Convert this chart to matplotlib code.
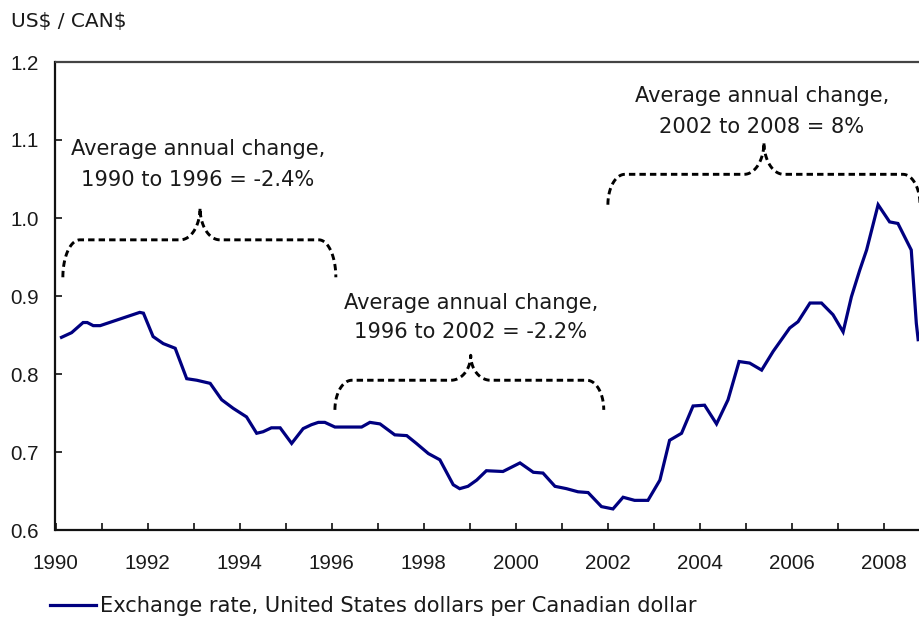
import numpy as np
import matplotlib
matplotlib.use("Agg")
import matplotlib.pyplot as plt

# ---------------- data ----------------
dates = [1990.13, 1990.35, 1990.60, 1990.69, 1990.82, 1990.97, 1991.83, 1991.91,
         1992.12, 1992.34, 1992.60, 1992.85, 1993.07, 1993.36, 1993.61, 1993.86,
         1994.15, 1994.37, 1994.51, 1994.69, 1994.88, 1995.13, 1995.38, 1995.56,
         1995.71, 1995.85, 1996.07, 1996.65, 1996.83, 1997.05, 1997.37, 1997.63,
         1997.84, 1998.10, 1998.35, 1998.64, 1998.78, 1998.96, 1999.15, 1999.36,
         1999.72, 2000.09, 2000.38, 2000.59, 2000.85, 2001.10, 2001.35, 2001.57,
         2001.86, 2002.11, 2002.33, 2002.58, 2002.87, 2003.13, 2003.34, 2003.60,
         2003.85, 2004.10, 2004.36, 2004.61, 2004.85, 2005.08, 2005.34, 2005.59,
         2005.95, 2006.13, 2006.39, 2006.64, 2006.89, 2007.11, 2007.29, 2007.47,
         2007.62, 2007.87, 2008.12, 2008.30, 2008.59, 2008.70, 2008.74]
rate = [0.847, 0.853, 0.866, 0.866, 0.862, 0.862, 0.879, 0.878,
        0.848, 0.839, 0.833, 0.794, 0.792, 0.788, 0.767, 0.756,
        0.745, 0.724, 0.726, 0.731, 0.731, 0.711, 0.730, 0.735,
        0.738, 0.738, 0.732, 0.732, 0.738, 0.736, 0.722, 0.721,
        0.711, 0.698, 0.690, 0.658, 0.653, 0.656, 0.664, 0.676,
        0.675, 0.686, 0.674, 0.673, 0.656, 0.653, 0.649, 0.648,
        0.630, 0.627, 0.642, 0.638, 0.638, 0.664, 0.715, 0.724,
        0.759, 0.760, 0.736, 0.767, 0.816, 0.814, 0.805, 0.829,
        0.859, 0.867, 0.891, 0.891, 0.876, 0.854, 0.899, 0.933,
        0.959, 1.017, 0.995, 0.993, 0.959, 0.865, 0.844]

series_label = "Exchange rate, United States dollars per Canadian dollar"
y_title = r"US\$ / CAN\$"
x_major = [1990, 1992, 1994, 1996, 1998, 2000, 2002, 2004, 2006, 2008]
x_minor = list(range(1990, 2009))
y_ticks = [0.6, 0.7, 0.8, 0.9, 1.0, 1.1, 1.2]

ann_line1 = ["Average annual change,", "Average annual change,", "Average annual change,"]
ann_line2 = ["1990 to 1996 = -2.4%", "1996 to 2002 = -2.2%", "2002 to 2008 = 8%"]
ann_x = [1993.09, 1999.02, 2005.34]
ann_y1 = [1.088, 0.891, 1.156]
ann_y2 = [1.049, 0.854, 1.117]

# braces: (x_left, x_tip, x_right, y_bottom, y_horizontal, y_tip)
braces = [
    (1990.16, 1993.14, 1996.09, 0.924, 0.972, 1.013),
    (1996.07, 1999.02, 2001.91, 0.754, 0.792, 0.824),
    (2002.00, 2005.39, 2008.78, 1.017, 1.056, 1.097),
]

# ---------------- figure ----------------
W, H, DPI = 920, 618, 100
fig = plt.figure(figsize=(W / DPI, H / DPI), dpi=DPI)
ax = fig.add_axes([55.5 / W, (H - 530) / H, 1 - 55.5 / W, (530 - 62) / H])

TXT = "DejaVu Sans"
TICKF = "Liberation Sans"

ax.plot(dates, rate, color="#000080", lw=2.3, solid_joinstyle="miter",
        label=series_label, clip_on=False)

ax.set_xlim(1990, 2008.78)
ax.set_ylim(0.6, 1.2)

ax.set_xticks(x_major)
ax.set_xticks(x_minor, minor=True)
ax.set_xticklabels([str(v) for v in x_major], fontsize=14.8, family=TICKF, color="#1a1a1a")
ax.set_yticks(y_ticks)
ax.set_yticklabels([f"{v:.1f}" for v in y_ticks], fontsize=14.8, family=TICKF, color="#1a1a1a")

ax.tick_params(axis="x", which="both", direction="in", length=5, width=1.3, pad=17, color="#222222")
ax.tick_params(axis="y", which="major", direction="in", length=5, width=1.3, pad=12, color="#222222")

for s in ["left", "bottom"]:
    ax.spines[s].set_linewidth(1.6)
    ax.spines[s].set_color("#111111")
ax.spines["top"].set_linewidth(1.6)
ax.spines["top"].set_color("#444444")
ax.spines["right"].set_visible(False)

# braces
def brace_path(xl, xt, xr, yb, yh, yt, r_corner=0.37, r_tip=0.43, n=30):
    th = np.linspace(0, np.pi / 2, n)
    cx = xl + r_corner - r_corner * np.cos(th)
    cy = yb + (yh - yb) * np.sin(th)
    tx = xt - r_tip + r_tip * np.sin(th)
    ty = yh + (yt - yh) * (1 - np.cos(th))
    left_x = np.concatenate([cx, tx])
    left_y = np.concatenate([cy, ty])
    rx = (xt + (xt - tx))[::-1]
    ry = ty[::-1]
    rcx = (xr - r_corner + r_corner * np.cos(th))[::-1]
    rcy = (yb + (yh - yb) * np.sin(th))[::-1]
    return (np.concatenate([left_x, rx, rcx]), np.concatenate([left_y, ry, rcy]))

for b in braces:
    bx, by = brace_path(*b)
    ax.plot(bx, by, color="black", lw=2.1, linestyle=(0, (2.2, 1.4)),
            clip_on=False)

for x, y1, y2, t1, t2 in zip(ann_x, ann_y1, ann_y2, ann_line1, ann_line2):
    ax.text(x, y1, t1, ha="center", va="center", fontsize=15.1, family=TXT, color="#1a1a1a")
    ax.text(x, y2, t2, ha="center", va="center", fontsize=15.1, family=TXT, color="#1a1a1a")

fig.text(11 / W, 1 - 21 / H, y_title, ha="left", va="center", fontsize=14.5,
         family=TXT, color="#1a1a1a")

leg = fig.legend(loc="center left", bbox_to_anchor=(50 / W, 1 - 606 / H),
                 frameon=False, borderpad=0, borderaxespad=0,
                 handlelength=2.2, handletextpad=0.2,
                 prop={"family": TXT, "size": 15.1})
for t in leg.get_texts():
    t.set_color("#1a1a1a")

fig.savefig("out.png", dpi=DPI)
